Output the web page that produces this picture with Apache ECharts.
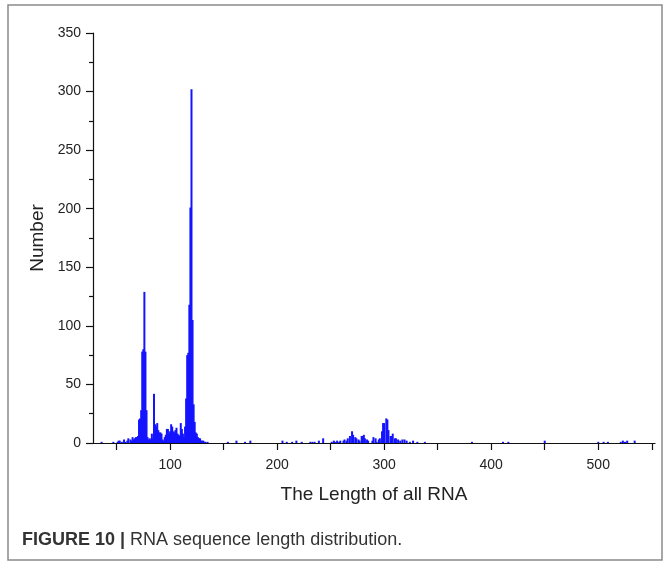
<!DOCTYPE html>
<html>
<head>
<meta charset="utf-8">
<script src="https://cdn.jsdelivr.net/npm/echarts@6/dist/echarts.min.js"></script>
<style>
  html, body { margin: 0; padding: 0; background: #fff; }
  #chart { width: 670px; height: 564px; }
</style>
</head>
<body>
<div id="chart"></div>
<script>
// RNA length (nt) and how many sequences have that length
var lengths = [
  36, 47, 51, 52, 53, 55, 57, 58, 60, 61, 63, 64, 65, 66, 67, 68, 69, 70,
  71, 72, 73, 74, 75, 76, 77, 78, 79, 80, 81, 82, 83, 84, 85, 86, 87, 88, 89, 90,
  91, 92, 93, 94, 95, 96, 97, 98, 99, 100, 101, 102, 103, 104, 105, 106, 107, 108, 109, 110,
  111, 112, 113, 114, 115, 116, 117, 118, 119, 120, 121, 122, 123, 124, 125, 126, 127, 128, 129, 130,
  131, 132, 133, 135,
  154, 162, 170, 175, 205, 209, 214, 218, 223, 231, 233, 235, 239, 243,
  251, 253, 254, 256, 258, 259, 262, 263, 265, 266, 268, 270, 271, 273, 274, 276, 277,
  279, 280, 281, 282, 284, 285, 289, 290, 292, 293, 295, 296, 298, 299, 300, 302, 303, 304,
  306, 307, 308, 310, 311, 313, 315, 317, 319, 321, 324, 327, 331, 338,
  382, 411, 416, 450, 500, 505, 509, 521, 523, 525, 527, 534
];
var counts = [
  1, 1, 1, 2, 2, 1, 3, 1, 2, 4, 3, 2, 5, 3, 4, 5, 5, 6,
  20, 21, 28, 78, 80, 129, 78, 28, 5, 3, 4, 3, 8, 4, 42, 16, 14, 17, 11, 9,
  9, 8, 3, 2, 5, 7, 12, 12, 8, 10, 16, 14, 10, 9, 11, 13, 8, 7, 6, 17,
  12, 8, 5, 14, 38, 75, 77, 118, 201, 302, 105, 33, 18, 9, 8, 5, 4, 4, 2, 2,
  2, 1, 1, 1,
  1, 2, 1, 2, 2, 1, 1, 2, 1, 1, 1, 1, 2, 4,
  1, 2, 1, 2, 1, 2, 2, 3, 2, 4, 6, 10, 7, 5, 4, 3, 2,
  6, 6, 7, 4, 3, 2, 2, 5, 4, 1, 3, 4, 10, 17, 17, 21, 20, 11,
  6, 6, 8, 4, 4, 3, 2, 3, 3, 2, 1, 2, 1, 1,
  1, 1, 1, 2, 1, 1, 1, 1, 2, 1, 2, 2
];
var yTicks = [0, 50, 100, 150, 200, 250, 300, 350];

var seriesData = lengths.map(function (len, i) {
  return [len, counts[i]];
});

var myChart = echarts.init(document.getElementById('chart'));
var fontName = 'Liberation Sans, Arial, sans-serif';

myChart.setOption({
  backgroundColor: '#fff',
  animation: false,
  grid: {
    left: 93,
    right: 15,
    top: 33,
    bottom: 121
  },
  xAxis: {
    type: 'value',
    min: 28,
    max: 553,
    splitNumber: 10,
    name: 'The Length of all RNA',
    nameLocation: 'middle',
    nameGap: 42,
    nameMoveOverlap: false,
    nameTextStyle: { fontFamily: fontName, fontSize: 19, color: '#222' },
    axisLine: { lineStyle: { color: '#111', width: 1.2 } },
    axisTick: { show: true, length: 7, lineStyle: { color: '#111', width: 1.2 } },
    axisLabel: {
      fontFamily: fontName,
      fontSize: 14,
      color: '#222',
      margin: 15,
      showMinLabel: false,
      showMaxLabel: false,
      formatter: function (v) {
        return v % 100 === 0 ? String(v) : '';
      }
    },
    splitLine: { show: false }
  },
  yAxis: {
    type: 'value',
    min: yTicks[0],
    max: yTicks[yTicks.length - 1],
    interval: 50,
    name: 'Number',
    nameLocation: 'middle',
    nameGap: 46,
    nameMoveOverlap: false,
    nameTextStyle: { fontFamily: fontName, fontSize: 19, color: '#222' },
    axisLine: { show: true, lineStyle: { color: '#111', width: 1.2 } },
    axisTick: { show: true, length: 7, lineStyle: { color: '#111', width: 1.2 } },
    minorTick: { show: true, splitNumber: 2, length: 4, lineStyle: { color: '#111', width: 1.2 } },
    axisLabel: { fontFamily: fontName, fontSize: 14, color: '#222', margin: 12 },
    splitLine: { show: false }
  },
  series: [{
    type: 'bar',
    data: seriesData,
    barWidth: 2,
    barGap: '-100%',
    itemStyle: { color: '#1414ff' }
  }],
  graphic: [
    {
      type: 'rect',
      shape: { x: 8, y: 5, width: 654, height: 555 },
      style: { fill: 'none', stroke: '#8a8a8a', lineWidth: 1.5 },
      silent: true
    },
    {
      type: 'text',
      left: 22,
      top: 531,
      style: {
        text: '{b|FIGURE 10 |} RNA sequence length distribution.',
        fontFamily: fontName,
        fontSize: 18,
        fill: '#333',
        rich: {
          b: { fontFamily: fontName, fontSize: 18, fontWeight: 'bold', fill: '#333' }
        }
      }
    }
  ]
});
</script>
</body>
</html>
